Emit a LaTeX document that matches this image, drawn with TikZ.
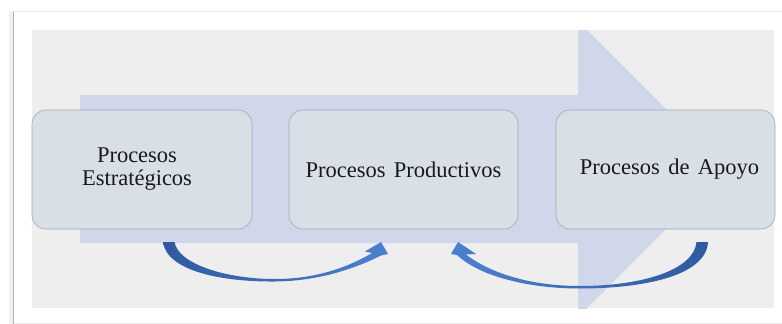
\documentclass[tikz,border=0pt]{standalone}
\usepackage{fontspec}
\setmainfont{Liberation Serif}[WordSpace=1.5]
\definecolor{panelgray}{HTML}{EEEEEE}
\definecolor{flowblue}{HTML}{D0D7EA}
\definecolor{boxfill}{HTML}{D9DFE7}
\definecolor{boxline}{HTML}{A3A8AF}
\definecolor{arrdark}{HTML}{2F5A9F}
\definecolor{arrlight}{HTML}{4C80CE}
\tikzset{
  procbox/.style={draw=boxline, line width=0.6pt, fill=boxfill, rounded corners=14pt,
    minimum height=119pt, align=center, inner sep=0pt,
    font=\fontsize{22.5}{23}\selectfont, text=black!90},
}
\begin{document}
\begin{tikzpicture}[x=1pt,y=-1pt]
\useasboundingbox (0,0) rectangle (782,324);
% page card with its shadowed edges
\fill[white] (0,0) rectangle (782,324);
\fill[gray!12] (9,11) rectangle (13,324);
\draw[gray!60, line width=1.6pt] (13.5,11) -- (13.5,324);
\draw[gray!18, line width=1.4pt] (13,11.5) -- (782,11.5);
\draw[gray!15, line width=1pt] (14,323) -- (782,323);
% grey panel
\fill[panelgray] (32,30) rectangle (774,308);
% broad flow arrow, cut off by the panel
\begin{scope}
  \clip (32,30) rectangle (774,308);
  \fill[flowblue] (80,95) -- (578,95) -- (578,21) -- (726,169) -- (578,317)
    -- (578,243) -- (80,243) -- cycle;
\end{scope}
% the three process boxes
\node[procbox, minimum width=220pt] (estr) at (142,169.5)
  {\hspace*{-10pt}Procesos\\\hspace*{-10pt}Estratégicos};
\node[procbox, minimum width=229pt] (prod) at (403.5,169.5) {Procesos Productivos};
\node[procbox, minimum width=219pt] (apoyo) at (665.5,169.5)
  {\hspace*{8pt}Procesos de Apoyo};
% curved arrow: strategic -> productive
\shade[left color=arrdark, right color=arrlight]
  (163,242) .. controls (167,272) and (225,282) .. (275,281.5)
  .. controls (320,281) and (356,268) .. (381,255.5)
  -- (388,254) -- (381,242) -- (365,251.5) -- (372,253)
  .. controls (350,266) and (318,279) .. (275,279)
  .. controls (226,279) and (178,264) .. (174.5,242) -- cycle;
% curved arrow: support -> productive
\shade[left color=arrlight, right color=arrdark]
  (708,242) .. controls (706,277) and (640,288.5) .. (580,288.5)
  .. controls (525,288.5) and (478,275) .. (457,255)
  -- (451,254) -- (458,242) -- (476,254) -- (466,254.5)
  .. controls (490,273) and (530,286) .. (580,286)
  .. controls (642,286) and (694,270) .. (696.5,242) -- cycle;
\end{tikzpicture}
\end{document}
